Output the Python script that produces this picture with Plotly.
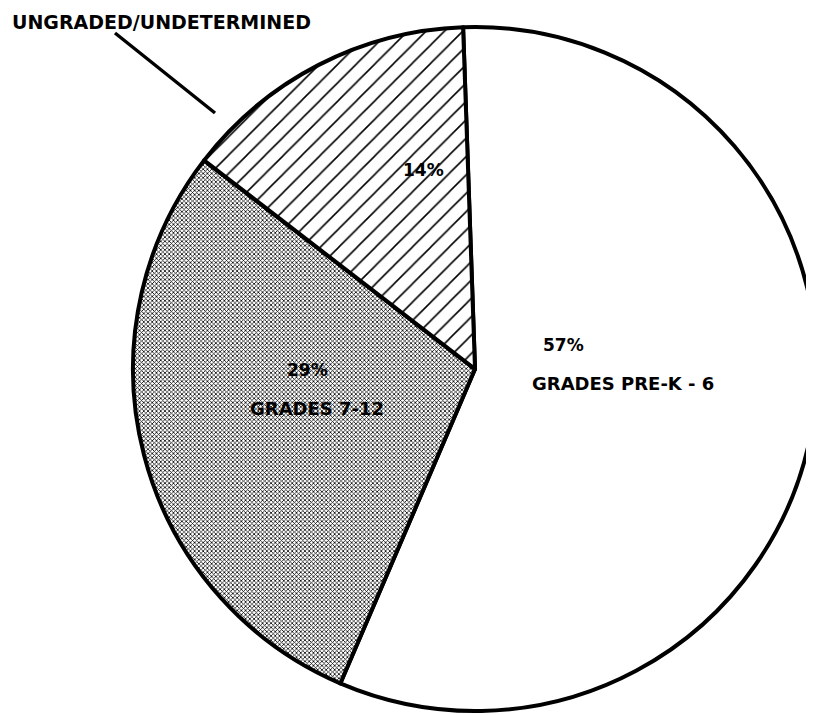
import plotly.graph_objects as go

categories = ["GRADES PRE-K - 6", "GRADES 7-12", "UNGRADED/UNDETERMINED"]
values = [57, 29, 14]

FONT = "DejaVu Sans, Arial, sans-serif"
W, H = 814, 715
OFF = 8  # page body margin offset


def px(x):
    return (x - OFF) / W


def py(y):
    return 1 - (y - OFF) / H


fig = go.Figure()
fig.add_trace(go.Pie(
    labels=categories,
    values=values,
    sort=False,
    direction="clockwise",
    rotation=-2,
    textinfo="none",
    hoverinfo="label+percent",
    showlegend=False,
    domain=dict(x=[0.1536, 0.9939], y=[0.014, 0.976]),
    marker=dict(
        colors=["white", "white", "white"],
        line=dict(color="black", width=4),
        pattern=dict(
            shape=["", "x", "/"],
            fgcolor="black",
            bgcolor="white",
            size=[8, 3, 13],
            solidity=[0.1, 0.45, 0.12],
        ),
    ),
))

anns = [
    dict(x=563, y=345, text=f"{values[0]}%", size=17),
    dict(x=623, y=383, text=categories[0], size=18),
    dict(x=307, y=370, text=f"{values[1]}%", size=17),
    dict(x=317, y=408, text=categories[1], size=18),
    dict(x=423, y=170, text=f"{values[2]}%", size=17),
]
annotations = []
for a in anns:
    annotations.append(dict(
        xref="paper", yref="paper",
        x=px(a["x"]), y=py(a["y"]),
        text=f"<b>{a['text']}</b>", showarrow=False,
        font=dict(family=FONT, size=a["size"], color="black"),
        xanchor="center", yanchor="middle",
    ))
annotations.append(dict(
    xref="paper", yref="paper",
    x=px(10), y=py(22),
    text=f"<b>{categories[2]}</b>", showarrow=False,
    font=dict(family=FONT, size=19, color="black"),
    xanchor="left", yanchor="middle",
))

fig.update_layout(
    width=W, height=H,
    margin=dict(l=0, r=0, t=0, b=0),
    paper_bgcolor="white",
    plot_bgcolor="white",
    annotations=annotations,
    shapes=[dict(
        type="line", xref="paper", yref="paper",
        x0=px(115), y0=py(33), x1=px(215), y1=py(113),
        line=dict(color="black", width=3.5),
    )],
)

fig.write_html("out.html")
